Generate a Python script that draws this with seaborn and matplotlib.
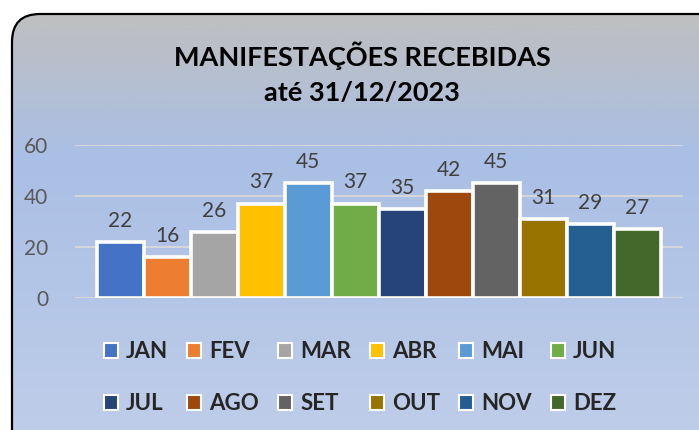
import numpy as np
import pandas as pd
import matplotlib
matplotlib.use("Agg")
import matplotlib.pyplot as plt
from matplotlib.patches import FancyBboxPatch, Patch
from matplotlib.colors import LinearSegmentedColormap
import seaborn as sns

# Dados
meses = ["JAN", "FEV", "MAR", "ABR", "MAI", "JUN",
         "JUL", "AGO", "SET", "OUT", "NOV", "DEZ"]
valores = [22, 16, 26, 37, 45, 37, 35, 42, 45, 31, 29, 27]
cores = ["#4472C4", "#ED7D31", "#A5A5A5", "#FFC000", "#5B9BD5", "#70AD47",
         "#264478", "#9E480E", "#636363", "#997300", "#255E91", "#43682B"]
titulo = "MANIFESTAÇÕES RECEBIDAS\naté 31/12/2023"

df = pd.DataFrame({"mes": meses, "valor": valores})

sns.set_style("white")
plt.rcParams["font.family"] = ["Lato", "DejaVu Sans"]

W, H = 699, 430
fig = plt.figure(figsize=(W / 100, H / 100), dpi=100)
fig.patch.set_facecolor("white")

# Fundo com gradiente e borda arredondada
bg = fig.add_axes([0, 0, 1, 1], zorder=-1)
bg.set_xlim(0, W)
bg.set_ylim(H, 0)
bg.axis("off")
grad_cmap = LinearSegmentedColormap.from_list(
    "fundo", [(0.0, "#BFBFBF"), (0.3, "#AABFE5"), (1.0, "#C2D0EA")])
grad = np.linspace(0, 1, 256).reshape(-1, 1)
caixa = FancyBboxPatch((12, 14), W + 40, H + 40,
                       boxstyle="round,pad=0,rounding_size=28",
                       facecolor="none", edgecolor="black", linewidth=1.6)
bg.add_patch(caixa)
img = bg.imshow(grad, cmap=grad_cmap, aspect="auto",
                extent=(12, W + 52, H + 54, 14), zorder=0)
img.set_clip_path(caixa)
caixa.set_zorder(2)

# Gráfico de barras
ax = fig.add_axes([0.107, 0.307, 0.870, 0.356])
ax.set_facecolor("none")
sns.barplot(data=df, x="mes", y="valor", hue="mes", palette=cores,
            width=1.0, edgecolor="white", linewidth=2.6, legend=False,
            saturation=1, ax=ax)
for c in ax.containers:
    ax.bar_label(c, padding=8, fontsize=15, color="#404040")
ax.set_ylim(0, 60)
ax.set_yticks([0, 20, 40, 60])
ax.set_xlim(-0.97, 11.97)
ax.set_xticks([])
ax.set_xlabel("")
ax.set_ylabel("")
ax.yaxis.grid(True, color="#D9D9D9", linewidth=1.3)
ax.set_axisbelow(True)
ax.tick_params(axis="y", length=0, pad=19, labelsize=15, labelcolor="#595959")
sns.despine(ax=ax, left=True, bottom=True)

fig.text(0.518, 0.83, titulo, ha="center", va="center", fontsize=19.5,
         fontweight="bold", color="black", linespacing=1.55)

# Legenda em duas linhas, ordem por linha
ordem = [i + 6 * r for i in range(6) for r in range(2)]
handles = [Patch(facecolor=cores[i], edgecolor="white", linewidth=1.5) for i in ordem]
rotulos = [meses[i] for i in ordem]
fig.legend(handles, rotulos, loc="center", bbox_to_anchor=(0.515, 0.122),
           ncol=6, frameon=False, handlelength=0.65, handleheight=0.65,
           handletextpad=0.35, columnspacing=0.85, labelspacing=1.4,
           prop={"size": 16, "weight": "bold"})

fig.savefig("out.png", dpi=100)
